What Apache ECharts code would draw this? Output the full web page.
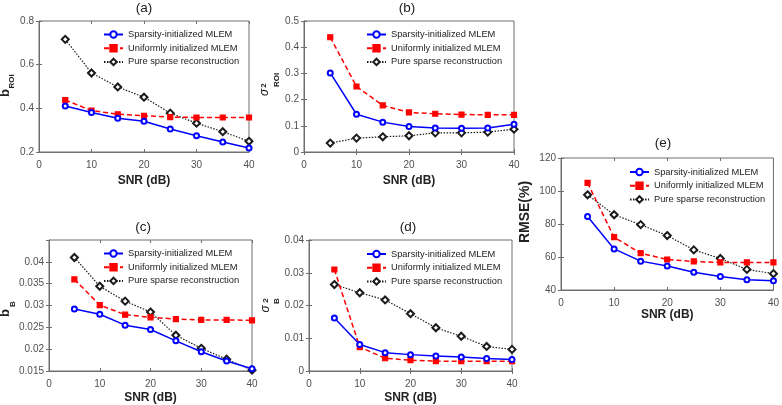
<!DOCTYPE html>
<html>
<head>
<meta charset="utf-8">
<script src="https://cdn.jsdelivr.net/npm/echarts@6/dist/echarts.min.js"></script>
<style>
  html, body { margin: 0; padding: 0; background: #fff; }
  #chart { width: 782px; height: 405px; }
</style>
</head>
<body>
<div id="chart"></div>
<script>
const snr = [5, 10, 15, 20, 25, 30, 35, 40]
const seriesNames = ['Sparsity-initialized MLEM', 'Uniformly initialized MLEM', 'Pure sparse reconstruction']

// (a) bias in ROI
const bRoiSparse = [0.411, 0.381, 0.355, 0.341, 0.305, 0.274, 0.246, 0.218]
const bRoiUniform = [0.438, 0.390, 0.373, 0.366, 0.360, 0.358, 0.358, 0.358]
const bRoiPure = [0.716, 0.562, 0.498, 0.451, 0.378, 0.332, 0.293, 0.249]
// (b) variance in ROI
const varRoiSparse = [0.302, 0.144, 0.114, 0.097, 0.092, 0.091, 0.092, 0.106]
const varRoiUniform = [0.438, 0.250, 0.178, 0.151, 0.146, 0.143, 0.142, 0.142]
const varRoiPure = [0.034, 0.053, 0.058, 0.062, 0.073, 0.073, 0.076, 0.087]
// (c) bias in background
const bBgSparse = [0.0292, 0.0280, 0.0255, 0.0245, 0.0219, 0.0194, 0.0173, 0.0155]
const bBgUniform = [0.0360, 0.0301, 0.0279, 0.0273, 0.0269, 0.0267, 0.0267, 0.0266]
const bBgPure = [0.0410, 0.0344, 0.0310, 0.0285, 0.0232, 0.0202, 0.0177, 0.0152]
// (d) variance in background
const varBgSparse = [0.0162, 0.0081, 0.0056, 0.0050, 0.0046, 0.0043, 0.0038, 0.0035]
const varBgUniform = [0.0310, 0.0073, 0.0039, 0.0033, 0.0030, 0.0030, 0.0030, 0.0030]
const varBgPure = [0.0264, 0.0239, 0.0217, 0.0175, 0.0132, 0.0106, 0.0075, 0.0066]
// (e) RMSE
const rmseSparse = [84.6, 64.9, 57.5, 54.5, 50.7, 48.2, 46.2, 45.6]
const rmseUniform = [104.9, 72.0, 62.3, 58.5, 57.3, 56.7, 56.7, 56.7]
const rmsePure = [97.7, 85.6, 79.6, 73.0, 64.3, 59.1, 52.5, 49.9]

const FONT = "'Liberation Sans', Arial, sans-serif"
const AXIS_COLOR = '#6e6e6e'
const LABEL_COLOR = '#505050'

const panels = [
  { tag: '(a)', grid: { left: 39, right: 533, top: 21, bottom: 253 }, y: [0.2, 0.8, 0.2],
    data: [bRoiSparse, bRoiUniform, bRoiPure], titlePos: [144, 1], legendPos: [103, 30], nameGap: 23 },
  { tag: '(b)', grid: { left: 304, right: 268, top: 21, bottom: 253 }, y: [0, 0.5, 0.1],
    data: [varRoiSparse, varRoiUniform, varRoiPure], titlePos: [407, 1], legendPos: [366, 30], nameGap: 23 },
  { tag: '(c)', grid: { left: 49, right: 530, top: 240, bottom: 34 }, y: [0.015, 0.045, 0.005], hideMax: true,
    data: [bBgSparse, bBgUniform, bBgPure], titlePos: [143, 220], legendPos: [103, 249], nameGap: 21 },
  { tag: '(d)', grid: { left: 309, right: 270, top: 240, bottom: 33 }, y: [0, 0.04, 0.01],
    data: [varBgSparse, varBgUniform, varBgPure], titlePos: [408, 220], legendPos: [366, 249.5], nameGap: 21 },
  { tag: '(e)', grid: { left: 561, right: 6, top: 158, bottom: 115 }, y: [40, 120, 20],
    data: [rmseSparse, rmseUniform, rmsePure], titlePos: [663, 136], legendPos: [629, 167.5], nameGap: 18 }
]

const styles = [
  { color: '#0000ff', dash: 'solid', symbol: 'emptyCircle', size: 5, width: 1.5 },
  { color: '#ff0000', dash: [5, 3], symbol: 'rect', size: 5, width: 1.5 },
  { color: '#1a1a1a', dash: [1.5, 1.5], symbol: 'emptyDiamond', size: 7, width: 1.2 }
]

// y-axis titles drawn as rotated text pieces [text, x, y, size, style]
const yTitles = [
  [['b', 5, 93, 13, 'bold'], ['ROI', 12, 81.5, 8, 'bold']],
  [['σ', 265, 92.5, 12, 'italic'], ['2', 264, 85.5, 8, 'bold'], ['ROI', 277, 80, 8, 'bold']],
  [['b', 5, 313, 13, 'bold'], ['B', 12.5, 304, 8, 'bold']],
  [['σ', 266, 309, 12, 'italic'], ['2', 265.5, 300.5, 8, 'bold'], ['B', 276.5, 301, 8, 'bold']],
  [['RMSE(%)', 525, 212, 14, 'bold']]
]

const chart = echarts.init(document.getElementById('chart'))

const grids = [], xAxes = [], yAxes = [], series = [], titles = [], legends = []
panels.forEach((p, i) => {
  grids.push(Object.assign({ show: true, borderColor: AXIS_COLOR, borderWidth: 1, backgroundColor: 'transparent' }, p.grid))
  titles.push({
    text: p.tag, left: p.titlePos[0], top: p.titlePos[1], textAlign: 'center', padding: 0,
    textStyle: { fontFamily: FONT, fontSize: 13.5, fontWeight: 'normal', color: '#222' }
  })
  const tick = { show: true, inside: true, length: 3, lineStyle: { color: AXIS_COLOR } }
  xAxes.push({
    gridIndex: i, type: 'value', min: 0, max: 40, interval: 10,
    name: 'SNR (dB)', nameLocation: 'middle', nameGap: p.nameGap,
    nameTextStyle: { fontFamily: FONT, fontSize: 12, fontWeight: 'bold', color: '#222' },
    axisLine: { show: true, onZero: false, lineStyle: { color: AXIS_COLOR } },
    axisTick: tick, splitLine: { show: false },
    axisLabel: { margin: 8, fontFamily: FONT, fontSize: 10, color: LABEL_COLOR }
  })
  xAxes.push({
    gridIndex: i, type: 'value', position: 'top', min: 0, max: 40, interval: 10,
    axisLine: { show: false }, axisTick: tick, axisLabel: { show: false }, splitLine: { show: false }
  })
  yAxes.push({
    gridIndex: i, type: 'value', min: p.y[0], max: p.y[1], interval: p.y[2],
    axisLine: { show: true, onZero: false, lineStyle: { color: AXIS_COLOR } },
    axisTick: tick, splitLine: { show: false },
    axisLabel: { margin: 5, fontFamily: FONT, fontSize: 10, color: LABEL_COLOR, showMaxLabel: !p.hideMax }
  })
  yAxes.push({
    gridIndex: i, type: 'value', position: 'right', min: p.y[0], max: p.y[1], interval: p.y[2],
    axisLine: { show: false }, axisTick: tick, axisLabel: { show: false }, splitLine: { show: false }
  })
  p.data.forEach((vals, k) => {
    const s = styles[k]
    series.push({
      name: seriesNames[k], type: 'line', xAxisIndex: i * 2, yAxisIndex: i * 2,
      data: snr.map((x, j) => [x, vals[j]]),
      symbol: s.symbol, symbolSize: s.size, showSymbol: true,
      lineStyle: { color: s.color, width: s.width, type: s.dash },
      itemStyle: { color: s.color, borderColor: s.color, borderWidth: 1.2 },
      emphasis: { disabled: true }, animation: false, z: 3 - k
    })
  })
  legends.push({
    data: seriesNames, orient: 'vertical', left: p.legendPos[0], top: p.legendPos[1],
    itemWidth: 19, itemHeight: 8, itemGap: 4.7, padding: 0,
    textStyle: { fontFamily: FONT, fontSize: 9.3, color: '#222' }
  })
})

const graphics = []
yTitles.forEach(parts => parts.forEach(([text, x, y, size, style]) => {
  graphics.push({
    type: 'text', x: x, y: y, rotation: Math.PI / 2,
    style: {
      text: text, fill: '#222', fontFamily: FONT, fontSize: size,
      fontWeight: style === 'bold' ? 'bold' : 'normal',
      fontStyle: style === 'italic' ? 'italic' : 'normal',
      align: 'center', verticalAlign: 'middle', textAlign: 'center', textVerticalAlign: 'middle'
    }
  })
}))

chart.setOption({
  backgroundColor: '#fff',
  animation: false,
  title: titles,
  legend: legends,
  grid: grids,
  xAxis: xAxes,
  yAxis: yAxes,
  series: series,
  graphic: graphics
})
</script>
</body>
</html>
